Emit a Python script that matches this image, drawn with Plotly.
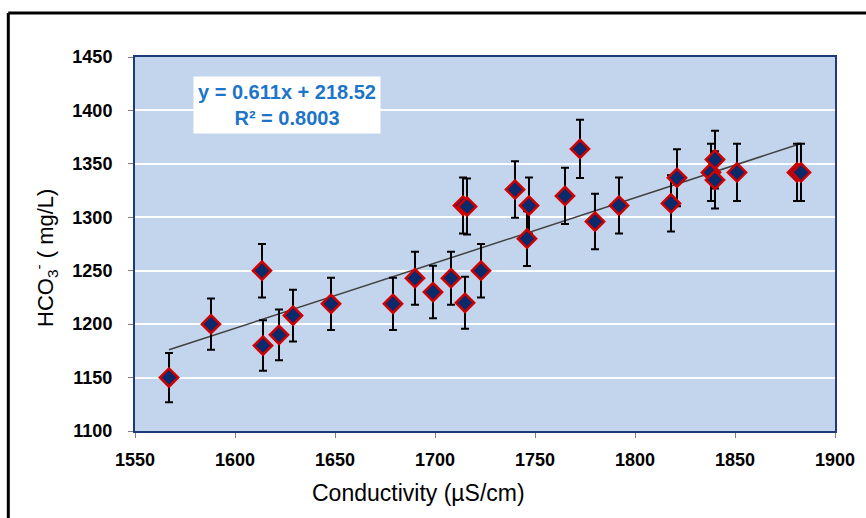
import plotly.graph_objects as go
import numpy as np

conductivity = [1567, 1588, 1613.5, 1614, 1622, 1629, 1648, 1679, 1690, 1699, 1708, 1715,
                1714, 1716, 1723, 1740, 1747, 1746, 1765, 1772.5, 1780, 1792, 1818, 1821,
                1838, 1840, 1840, 1851, 1881, 1883]
hco3 = [1150, 1200, 1250, 1180, 1190, 1208, 1219, 1219, 1243, 1230, 1243, 1220,
        1311, 1310, 1250, 1326, 1311, 1280, 1320, 1364, 1296, 1311, 1313, 1337,
        1342, 1354, 1335, 1342, 1342, 1342]
error_pct = 2.0
slope = 0.611
intercept = 218.52
r2 = 0.8003

x_ticks = [1550, 1600, 1650, 1700, 1750, 1800, 1850, 1900]
y_ticks = [1100, 1150, 1200, 1250, 1300, 1350, 1400, 1450]

err = [v * error_pct / 100 for v in hco3]
xfit = [min(conductivity), max(conductivity)]
yfit = [slope * v + intercept for v in xfit]

narrow = "Liberation Sans Narrow, Arial Narrow, Liberation Sans, Arial, sans-serif"
wide = "Liberation Sans, Arial, sans-serif"

fig = go.Figure()
fig.add_trace(go.Scatter(
    x=xfit, y=yfit, mode="lines",
    line=dict(color="#404040", width=1.5), showlegend=False, hoverinfo="skip"))
fig.add_trace(go.Scatter(
    x=conductivity, y=hco3, mode="markers",
    marker=dict(symbol="diamond", size=14, color="#0B2A6B",
                line=dict(color="#D00000", width=2.5)),
    error_y=dict(type="data", array=err, visible=True, color="black",
                 thickness=2, width=4),
    showlegend=False))

fig.add_annotation(
    x=0.217, y=0.872, xref="paper", yref="paper", xanchor="center", yanchor="middle",
    text="<b>y = 0.611x + 218.52</b><br><b>R² = 0.8003</b>",
    showarrow=False, align="center", bgcolor="white",
    font=dict(family=wide, size=20, color="#1C75C8"),
    borderpad=0, width=186, height=56)

# axis titles
fig.add_annotation(
    x=(418 - 135) / 700, y=-(493 - 431) / 374, xref="paper", yref="paper",
    xanchor="center", yanchor="middle", showarrow=False,
    text="Conductivity (µS/cm)", font=dict(family=narrow, size=23, color="black"))
fig.add_annotation(
    x=-(135 - 45) / 700, y=(431 - 258) / 374, xref="paper", yref="paper",
    xanchor="center", yanchor="middle", showarrow=False, textangle=-90,
    text="HCO<sub>3</sub><sup>-</sup> ( mg/L)", font=dict(family=wide, size=22, color="black"))

# outer frame
fig.add_shape(type="line", xref="paper", yref="paper",
              x0=-0.181, x1=-0.181, y0=1.1176, y1=-0.3, line=dict(color="black", width=3))
fig.add_shape(type="line", xref="paper", yref="paper",
              x0=-0.181, x1=1.1, y0=1.1176, y1=1.1176, line=dict(color="black", width=3))

fig.update_layout(
    width=866, height=518,
    margin=dict(l=135, r=31, t=57, b=87),
    paper_bgcolor="white", plot_bgcolor="#C2D5EC",
    font=dict(family=wide, color="black"),
    xaxis=dict(range=[1550, 1900], tickvals=x_ticks, ticks="outside", ticklen=5,
               tickcolor="#808080", showgrid=False, zeroline=False,
               showline=True, mirror=True, linecolor="#1F3A7A", linewidth=2,
               ticklabelstandoff=6,
               tickfont=dict(size=18, family=wide, weight="bold")),
    yaxis=dict(range=[1100, 1450], tickvals=y_ticks, ticks="outside", ticklen=5,
               tickcolor="#808080", showgrid=True, gridcolor="white", gridwidth=2,
               zeroline=False, showline=True, mirror=True, linecolor="#1F3A7A", linewidth=2,
               ticklabelstandoff=12,
               tickfont=dict(size=18, family=wide, weight="bold")),
)

fig.write_html("out.html")
